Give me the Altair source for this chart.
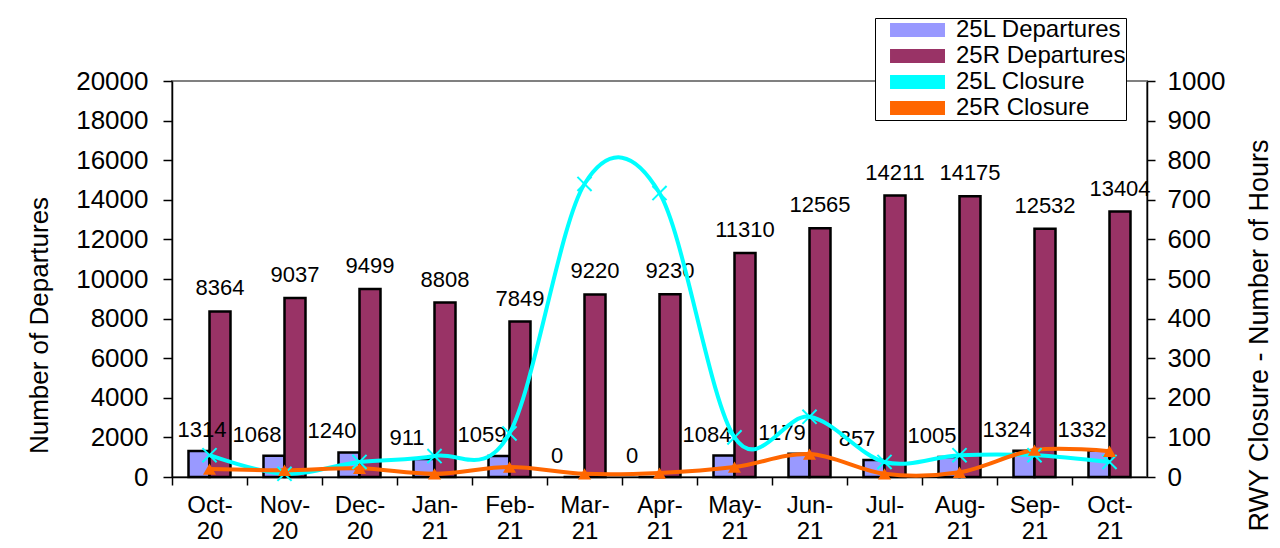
import altair as alt
import pandas as pd

months = ["Oct-20", "Nov-20", "Dec-20", "Jan-21", "Feb-21", "Mar-21", "Apr-21",
          "May-21", "Jun-21", "Jul-21", "Aug-21", "Sep-21", "Oct-21"]
dep_25l = [1314, 1068, 1240, 911, 1059, 0, 0, 1084, 1179, 857, 1005, 1324, 1332]
dep_25r = [8364, 9037, 9499, 8808, 7849, 9220, 9230, 11310, 12565, 14211, 14175, 12532, 13404]
close_25l = [55, 8, 38, 53, 110, 740, 717, 100, 152, 38, 55, 55, 38]
close_25r = [20, 17, 22, 8, 25, 8, 10, 25, 58, 8, 12, 68, 65]

series_names = ["25L Departures", "25R Departures", "25L Closure", "25R Closure"]
series_colors = ["#9999FF", "#993366", "#00FFFF", "#FF6600"]

FONT = "Liberation Sans"
n = len(months)

bars_df = pd.DataFrame({
    "month": months * 2,
    "series": [series_names[0]] * n + [series_names[1]] * n,
    "value": dep_25l + dep_25r,
})
lines_df = pd.DataFrame({
    "month": months * 2,
    "series": [series_names[2]] * n + [series_names[3]] * n,
    "hours": close_25l + close_25r,
})

color_scale = alt.Scale(domain=series_names, range=series_colors)

bar_path = "M0.67,-1H9.5V1H0.67Z"

legend = alt.Legend(
    title=None, orient="none", legendX=703, legendY=-63,
    fillColor="white", strokeColor="black",
    labelFont=FONT, labelFontSize=24, labelColor="black", labelLimit=400, labelOffset=57,
    symbolType=bar_path, symbolSize=144, symbolStrokeColor="black", symbolStrokeWidth=2,
)

x_enc = alt.X(
    "month:N", sort=months,
    scale=alt.Scale(paddingInner=0, paddingOuter=0),
    axis=alt.Axis(
        title=None, labelAngle=0, tickOffset=-37.5, labelOffset=37.5,
        labelExpr="[split(datum.value, '-')[0] + '-', split(datum.value, '-')[1]]",
        labelFontSize=24, labelLineHeight=26, tickSize=8, labelPadding=8,
        labelOverlap=False,
    ),
)
x_off = alt.XOffset("series:N", sort=series_names[:2],
                    scale=alt.Scale(paddingInner=0, paddingOuter=0.786))

y_left = alt.Y(
    "value:Q", scale=alt.Scale(domain=[0, 20000]),
    axis=alt.Axis(
        values=list(range(0, 20001, 2000)), format="d", labelOverlap=False,
        grid=False, tickSize=9, labelPadding=15,
        labelFontSize=26, title="Number of Departures", titleFontSize=26,
        titleFontWeight="normal", titleAngle=270, titleX=-125, titleY=244,
        titleBaseline="alphabetic", titleAlign="center",
    ),
)

bars = alt.Chart(bars_df).mark_bar(stroke="black", strokeWidth=2.5).encode(
    x=x_enc, xOffset=x_off, y=y_left,
    color=alt.Color("series:N", scale=color_scale, legend=legend),
)
txt_l = alt.Chart(bars_df).transform_filter(
    alt.datum.series == series_names[0]
).mark_text(font=FONT, fontSize=22, baseline="alphabetic", dy=-14, color="black",
            dx={"expr": "datum.month === 'Oct-20' ? 3 : -17"}).encode(
    x=x_enc, xOffset=x_off, y=y_left, text=alt.Text("value:Q", format="d"),
)
txt_r = alt.Chart(bars_df).transform_filter(
    alt.datum.series == series_names[1]
).mark_text(font=FONT, fontSize=22, baseline="alphabetic", dy=-16, color="black").encode(
    x=x_enc, xOffset=x_off, y=y_left, text=alt.Text("value:Q", format="d"),
)
left = alt.layer(bars, txt_l, txt_r)

y_right = alt.Y(
    "hours:Q", scale=alt.Scale(domain=[0, 1000]),
    axis=alt.Axis(
        orient="right", values=list(range(0, 1001, 100)), format="d", labelOverlap=False,
        grid=False, tickSize=8, labelPadding=12, labelFontSize=26,
        title="RWY Closure - Number of Hours",
        titleFontSize=27, titleFontWeight="normal", titleAngle=270, titleX=120,
        titleY=254, titleBaseline="alphabetic", titleAlign="center",
    ),
)

lines = alt.Chart(lines_df).mark_line(interpolate="cardinal", strokeWidth=4).encode(
    x=x_enc, y=y_right,
    color=alt.Color("series:N", scale=color_scale, legend=legend),
)
pts_l = alt.Chart(lines_df).transform_filter(
    alt.datum.series == series_names[2]
).mark_point(shape="M-1,-1L1,1M-1,1L1,-1", size=200, filled=False, stroke="#00FFFF",
             strokeWidth=2, opacity=1).encode(
    x=x_enc, y=y_right,
)
pts_r = alt.Chart(lines_df).transform_filter(
    alt.datum.series == series_names[3]
).mark_point(shape="triangle-up", size=170, filled=True, color="#FF6600", opacity=1).encode(
    x=x_enc, y=y_right,
)
right = alt.layer(lines, pts_l, pts_r)

chart = alt.layer(left, right).resolve_scale(y="independent").properties(
    width=975, height=396,
    padding={"left": 164, "top": 73, "right": 125, "bottom": 63},
    autosize=alt.AutoSizeParams(type="none"),
).configure_view(
    stroke="#808080", strokeWidth=2,
).configure_axis(
    labelFont=FONT, titleFont=FONT, labelColor="black", titleColor="black",
    domainColor="black", tickColor="black", domainWidth=1.5, tickWidth=1.5,
)

chart.save("out.html", embed_options={"renderer": "svg", "actions": False})
